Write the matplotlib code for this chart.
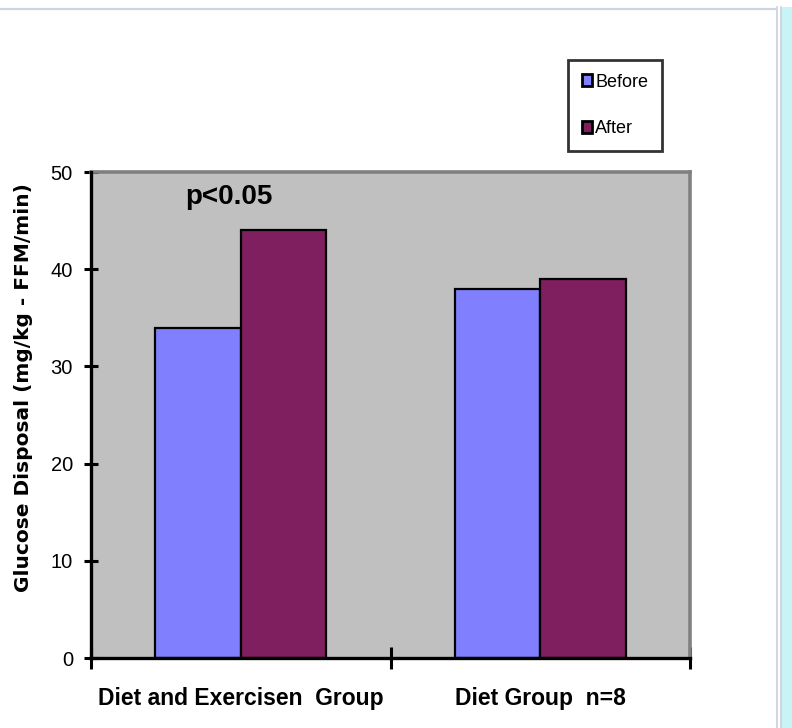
import matplotlib
matplotlib.use("Agg")
import matplotlib.pyplot as plt
from matplotlib.patches import Rectangle
from matplotlib.lines import Line2D
from matplotlib import transforms
import numpy as np

plt.rcParams['font.family'] = ['Liberation Sans', 'DejaVu Sans']

categories = ["Diet and Exercisen  Group", "Diet Group  n=8"]
series_names = ["Before", "After"]
before = [34, 38]
after = [44, 39]
y_ticks = [0, 10, 20, 30, 40, 50]
annotation = "p<0.05"
ylabel = "Glucose Disposal (mg/kg - FFM/min)"

W, H = 792, 728
fig = plt.figure(figsize=(W / 100, H / 100), dpi=100)
fig.patch.set_facecolor("white")

ax = fig.add_axes([91 / W, 1 - 658 / H, (690 - 91) / W, (658 - 172) / H])
ax.set_facecolor("#C0C0C0")

bw = 0.2857
x = np.arange(len(categories)) + 0.5
ax.bar(x - bw / 2, before, width=bw, color="#8080FF", edgecolor="black",
       linewidth=1.6, label=series_names[0], zorder=3)
ax.bar(x + bw / 2, after, width=bw, color="#7F1F5F", edgecolor="black",
       linewidth=1.6, label=series_names[1], zorder=3)

ax.set_xlim(0, 2)
ax.set_ylim(0, 50)
ax.set_yticks(y_ticks)
ax.set_yticklabels([str(t) for t in y_ticks], fontsize=14.5)
ax.tick_params(axis="y", direction="inout", length=10, width=2.2, pad=8)

# category boundary ticks on the x axis, labels centred under each group
ax.set_xticks([0, 1, 2])
ax.set_xticklabels([])
ax.tick_params(axis="x", direction="inout", length=16, width=2.2)
for xi, cat in zip(x, categories):
    ax.text(xi, -0.083, cat, transform=ax.get_xaxis_transform(),
            ha="center", va="center", fontsize=16.5, fontweight="bold")

for side in ("left", "bottom"):
    ax.spines[side].set_color("black")
    ax.spines[side].set_linewidth(2.4)
    ax.spines[side].set_zorder(5)
for side in ("top", "right"):
    ax.spines[side].set_color("#808080")
    ax.spines[side].set_linewidth(2.6)

fig.text(24 / W, 1 - 388 / H, ylabel, rotation=90, ha="center", va="center",
         fontsize=14.5, fontweight="bold", family=["DejaVu Sans"])

ax.text(185, 47.4, annotation, ha="left", va="center",
        transform=transforms.blended_transform_factory(
            transforms.IdentityTransform(), ax.transData),
        fontsize=20, fontweight="bold", zorder=4)

leg = fig.legend(loc="upper left", bbox_to_anchor=(568 / W, 1 - 60 / H),
                 fontsize=13, frameon=True, fancybox=False, shadow=False,
                 handlelength=0.6, handleheight=0.6, handletextpad=0.15,
                 labelspacing=1.65, borderpad=0.75, borderaxespad=0)
leg.get_frame().set_edgecolor("black")
leg.get_frame().set_linewidth(2.0)
for p in leg.get_patches():
    p.set_linewidth(2.0)

# window edges surrounding the chart
fig.add_artist(Line2D([0, 775 / W], [1 - 9 / H, 1 - 9 / H],
                      transform=fig.transFigure, color="#CDD5E2", lw=1.6))
fig.add_artist(Rectangle((781 / W, 0), 11 / W, 1 - 7 / H,
                         transform=fig.transFigure, color="#C8F4F8", lw=0))
for xv in (777, 781):
    fig.add_artist(Line2D([xv / W, xv / W], [0, 1 - 7 / H],
                          transform=fig.transFigure, color="#C8D0DC", lw=1.2))

fig.savefig("out.png", dpi=100)
